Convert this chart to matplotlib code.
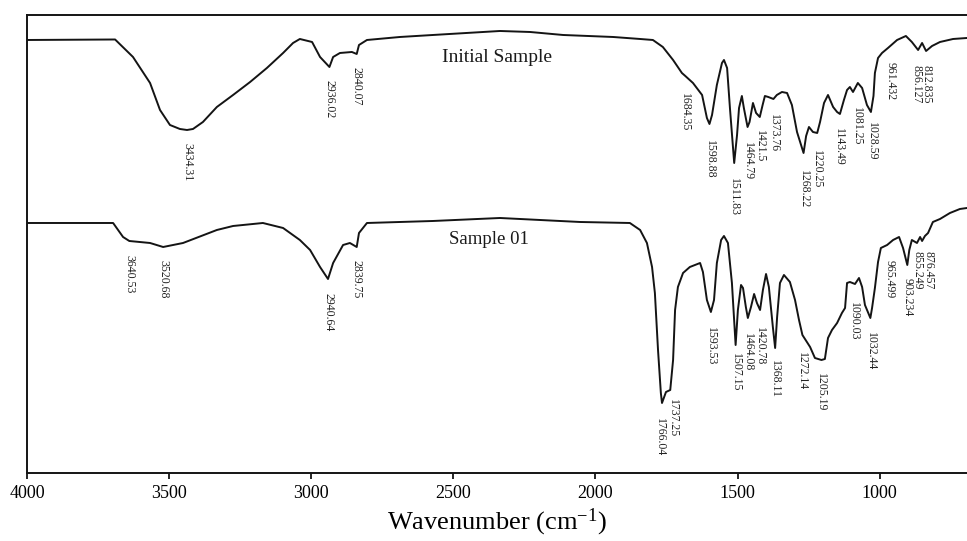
import matplotlib
matplotlib.use("Agg")
import matplotlib.pyplot as plt

plt.rcParams['font.family'] = ['Liberation Serif', 'DejaVu Serif']
plt.rcParams['mathtext.fontset'] = 'custom'
plt.rcParams['mathtext.rm'] = 'Liberation Serif'
plt.rcParams['mathtext.it'] = 'Liberation Serif:italic'

# ---- Initial Sample spectrum (wavenumber cm-1, transmittance a.u.) ----
init_wn = [4000, 3690, 3627, 3567, 3532, 3497, 3462, 3437, 3416, 3381, 3332, 3275,
           3215, 3156, 3099, 3064, 3040, 2997, 2969, 2936, 2923, 2899, 2857, 2840,
           2832, 2804, 2688, 2572, 2336, 2230, 2114, 1938, 1843, 1798, 1763, 1727,
           1696, 1684, 1657, 1625, 1608, 1599, 1590, 1573, 1555, 1548, 1537, 1527,
           1512, 1502, 1495, 1485, 1478, 1465, 1458, 1446, 1435, 1422, 1412, 1404,
           1392, 1374, 1362, 1344, 1326, 1309, 1291, 1268, 1259, 1249, 1235, 1220,
           1210, 1196, 1182, 1164, 1150, 1140, 1126, 1115, 1105, 1094, 1077, 1062,
           1045, 1031, 1022, 1017, 1006, 992, 971, 939, 908, 887, 865, 851, 837,
           816, 788, 742, 693]
init_t = [433, 433.5, 416, 390, 363, 348, 344, 343, 344, 351, 366, 378,
          391, 405, 420, 430, 434, 431, 416, 406, 416, 420, 421, 419,
          428, 433, 436, 438, 442, 441, 438, 436, 434, 433, 426, 413,
          400, 397, 390, 378, 355, 349, 358, 388, 410, 413, 405, 365,
          310, 338, 365, 377, 365, 346, 351, 370, 360, 356, 368, 377,
          376, 374, 378, 381, 380, 368, 341, 320, 337, 346, 341, 340,
          351, 370, 378, 366, 361, 359, 373, 383, 386, 381, 390, 385,
          368, 361, 377, 400, 415, 420, 425, 433, 437, 431, 423, 430, 422,
          427, 431, 434, 435]

# ---- Sample 01 spectrum ----
s01_wn = [4000, 3697, 3662, 3640, 3567, 3521, 3451, 3332, 3275, 3170, 3099, 3040,
          3004, 2969, 2941, 2923, 2888, 2864, 2840, 2832, 2804, 2572, 2336, 2054,
          1879, 1843, 1819, 1801, 1791, 1780, 1770, 1766, 1752, 1737, 1727, 1720,
          1710, 1692, 1668, 1632, 1622, 1608, 1594, 1583, 1573, 1558, 1548, 1534,
          1520, 1507, 1499, 1488, 1481, 1471, 1464, 1453, 1442, 1432, 1421, 1411,
          1400, 1390, 1376, 1368, 1361, 1351, 1337, 1316, 1298, 1284, 1272, 1245,
          1228, 1205, 1193, 1182, 1168, 1150, 1133, 1122, 1115, 1105, 1087, 1073,
          1062, 1052, 1033, 1027, 1017, 1006, 996, 974, 953, 932, 918, 903, 896,
          887, 869, 858, 851, 841, 830, 813, 788, 753, 718, 693]
s01_t = [250, 250, 236, 232, 230, 226, 230, 243, 247, 250, 245, 233,
         223, 206, 194, 210, 228, 230, 226, 240, 250, 252, 255, 251,
         250, 243, 230, 206, 180, 123, 80, 70, 81, 83, 113, 163,
         186, 200, 206, 210, 201, 173, 161, 173, 210, 233, 237, 230,
         190, 128, 163, 188, 185, 166, 155, 166, 179, 170, 163, 183,
         199, 186, 146, 125, 156, 190, 198, 191, 173, 153, 138, 126,
         115, 113, 114, 135, 143, 150, 160, 165, 190, 191, 189, 195,
         186, 168, 155, 165, 185, 211, 225, 228, 233, 236, 225, 208, 223,
         233, 230, 236, 232, 237, 240, 251, 254, 260, 264, 265]

# ---- peak labels: (text, x position cm-1, top of label in a.u.) ----
init_labels = ["3434.31", "2936.02", "2840.07", "1684.35", "1598.88", "1511.83",
               "1464.79", "1421.5", "1373.76", "1268.22", "1220.25", "1143.49",
               "1081.25", "1028.59", "961.432", "856.127", "812.835"]
init_lab_x = [3434.31, 2936.02, 2840.07, 1684.35, 1598.88, 1511.83,
              1464.79, 1421.5, 1373.76, 1268.22, 1220.25, 1143.49,
              1081.25, 1028.59, 961.432, 872, 834]
init_lab_y = [330, 393, 406, 380, 333, 295, 331, 343, 359, 303, 323, 345,
              366, 351, 411, 408, 408]

s01_labels = ["3640.53", "3520.68", "2940.64", "2839.75", "1766.04", "1737.25",
              "1593.53", "1507.15", "1464.08", "1420.78", "1368.11", "1272.14",
              "1205.19", "1090.03", "1032.44", "965.499", "903.234", "855.249",
              "876.457"]
s01_lab_x = [3640.53, 3520.68, 2940.64, 2839.75, 1772, 1727,
             1593.53, 1507.15, 1464.08, 1420.78, 1368.11, 1272.14,
             1205.19, 1090.03, 1032.44, 965.499, 903.234, 866, 827]
s01_lab_y = [218, 213, 180, 213, 55, 74, 146, 120, 140, 146, 113, 121,
             100, 171, 141, 213, 195, 222, 222]

xticks = [4000, 3500, 3000, 2500, 2000, 1500, 1000]

fig = plt.figure(figsize=(9.67, 5.41), dpi=100)
ax = fig.add_axes([0.0279, 0.1257, 0.9721, 0.8466])

line_kw = dict(color='#141414', lw=1.4)
ax.plot(init_wn, init_t, **line_kw)
ax.plot(s01_wn, s01_t, **line_kw)

for t, x, y in zip(init_labels, init_lab_x, init_lab_y):
    ax.text(x, y, t, rotation=270, ha='center', va='top', fontsize=8.5, color='#222222')
for t, x, y in zip(s01_labels, s01_lab_x, s01_lab_y):
    ax.text(x, y, t, rotation=270, ha='center', va='top', fontsize=8.5, color='#222222')

ax.text(2346, 415, "Initial Sample", ha='center', va='center', fontsize=14, color='#1a1a1a')
ax.text(2375, 233, "Sample 01", ha='center', va='center', fontsize=13.5, color='#1a1a1a')

ax.set_xlim(4000, 693)
ax.set_ylim(0, 458)
ax.set_xticks(xticks)
ax.set_xticklabels([str(v) for v in xticks])
ax.set_yticks([])
ax.tick_params(axis='x', direction='out', length=4, width=1.2, pad=5, labelsize=13)
for s in ['left', 'bottom', 'top']:
    ax.spines[s].set_linewidth(1.4)
    ax.spines[s].set_color('#141414')
ax.spines['right'].set_visible(False)

ax.set_xlabel('Wavenumber (cm$^{-1}$)', fontsize=19, labelpad=3)

fig.savefig('out.png', dpi=100)
